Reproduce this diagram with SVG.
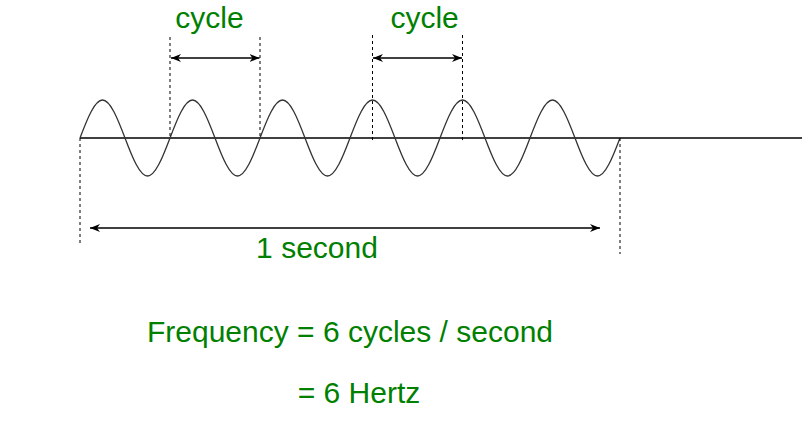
<svg xmlns="http://www.w3.org/2000/svg" width="802" height="422" viewBox="0 0 802 422">
<style>
.lbl{font-family:"Liberation Sans",Arial,sans-serif;font-size:30px;fill:#008000;text-anchor:middle}
.dash{stroke:#000;stroke-width:1;stroke-dasharray:3 3;fill:none}
.arr{stroke:#000;stroke-width:1.3;fill:none;marker-start:url(#ah);marker-end:url(#ah)}
</style>
<defs>
<marker id="ah" markerUnits="userSpaceOnUse" markerWidth="11" markerHeight="9" refX="10" refY="4.5" orient="auto-start-reverse">
<path d="M0,0.5 L10,4.5 L0,8.5 L3,4.5 z" fill="#000"/>
</marker>
</defs>
<rect width="802" height="422" fill="#fff"/>
<g id="axis">
<line x1="80" y1="138" x2="802" y2="138" stroke="#000" stroke-width="1.5"/>
</g>
<g id="wave">
<path fill="none" stroke="#333" stroke-width="1.3" d="M80,138 C87.34,118.54 94.76,100 102.5,100 S117.66,118.54 125,138 S139.76,176 147.5,176 S162.66,157.46 170,138 S184.76,100 192.5,100 S207.66,118.54 215,138 S229.76,176 237.5,176 S252.66,157.46 260,138 S274.76,100 282.5,100 S297.66,118.54 305,138 S319.76,176 327.5,176 S342.66,157.46 350,138 S364.76,100 372.5,100 S387.66,118.54 395,138 S409.76,176 417.5,176 S432.66,157.46 440,138 S454.76,100 462.5,100 S477.66,118.54 485,138 S499.76,176 507.5,176 S522.66,157.46 530,138 S544.76,100 552.5,100 S567.66,118.54 575,138 S589.76,176 597.5,176 S612.66,157.46 620,138"/>
</g>
<g id="connectors">
<line class="dash" x1="80" y1="138" x2="80" y2="244"/>
<line class="dash" x1="620" y1="138" x2="620" y2="254"/>
<line class="dash" x1="170" y1="37" x2="170" y2="138"/>
<line class="dash" x1="260" y1="37" x2="260" y2="138"/>
<line class="dash" x1="372.5" y1="35" x2="372.5" y2="140"/>
<line class="dash" x1="462.5" y1="35" x2="462.5" y2="140"/>
<line class="arr" x1="171" y1="58" x2="259.5" y2="58"/>
<line class="arr" x1="373" y1="58" x2="462" y2="58"/>
<line class="arr" x1="90" y1="228" x2="600" y2="228"/>
</g>
<g id="label-cycle-1"><text class="lbl" x="209.5" y="28">cycle</text></g>
<g id="label-cycle-2"><text class="lbl" x="424.6" y="28">cycle</text></g>
<g id="label-second"><text class="lbl" x="317" y="258">1 second</text></g>
<g id="label-frequency"><text class="lbl" x="350" y="342">Frequency = 6 cycles / second</text></g>
<g id="label-hertz"><text class="lbl" x="359" y="402.5">= 6 Hertz</text></g>
</svg>
